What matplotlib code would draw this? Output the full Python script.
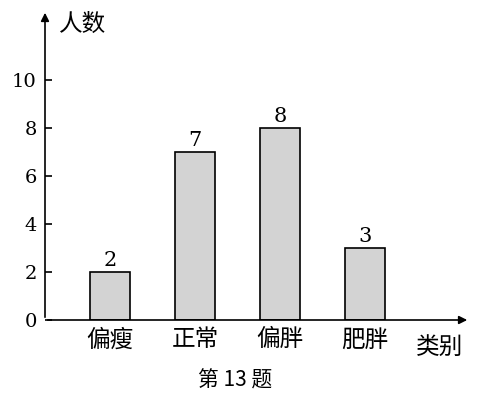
import matplotlib
matplotlib.use("Agg")
import matplotlib.pyplot as plt

plt.rcParams["font.family"] = ["Noto Sans CJK SC", "DejaVu Sans"]

categories = ["偏瘦", "正常", "偏胖", "肥胖"]
counts = [2, 7, 8, 3]
yticks = [0, 2, 4, 6, 8, 10]

W, H = 491, 400
fig = plt.figure(figsize=(W / 100, H / 100), dpi=100)
# axes spans pixel x 45..470, y 320..10
ax = fig.add_axes([45 / W, 80 / H, 425 / W, 310 / H])

x = list(range(len(categories)))
ax.bar(x, counts, width=40 / 85, color="#d3d3d3", edgecolor="black", linewidth=1.2)
ax.set_xlim(-65 / 85, 425 / 85 - 65 / 85)
ax.set_ylim(0, 310 / 24)
for xi, v in zip(x, counts):
    ax.text(xi, v + 0.1, str(v), ha="center", va="bottom", fontsize=15,
            family=["DejaVu Serif"])

for s in ax.spines.values():
    s.set_visible(False)
ax.annotate("", xy=(1.0, 0), xytext=(0, 0), xycoords="axes fraction",
            arrowprops=dict(arrowstyle="-|>", color="black", lw=1.2, mutation_scale=12))
ax.annotate("", xy=(0, 1.0), xytext=(0, 0), xycoords="axes fraction",
            arrowprops=dict(arrowstyle="-|>", color="black", lw=1.2, mutation_scale=12))

ax.set_yticks(yticks)
ax.set_yticklabels([str(t) for t in yticks], family=["DejaVu Serif"], fontsize=14)
ax.tick_params(axis="y", direction="in", length=5, width=1.2, pad=6)
ax.set_xticks(x)
ax.set_xticklabels(categories, fontsize=17)
ax.tick_params(axis="x", length=0, pad=6)

fig.text(440 / W, 1 - 347 / H, "类别", ha="center", va="center", fontsize=17)
fig.text(83 / W, 1 - 24 / H, "人数", ha="center", va="center", fontsize=17)
fig.text(235 / W, 1 - 381 / H, "第 13 题", ha="center", va="center", fontsize=15)

fig.savefig("out.png", dpi=100, facecolor="white")
